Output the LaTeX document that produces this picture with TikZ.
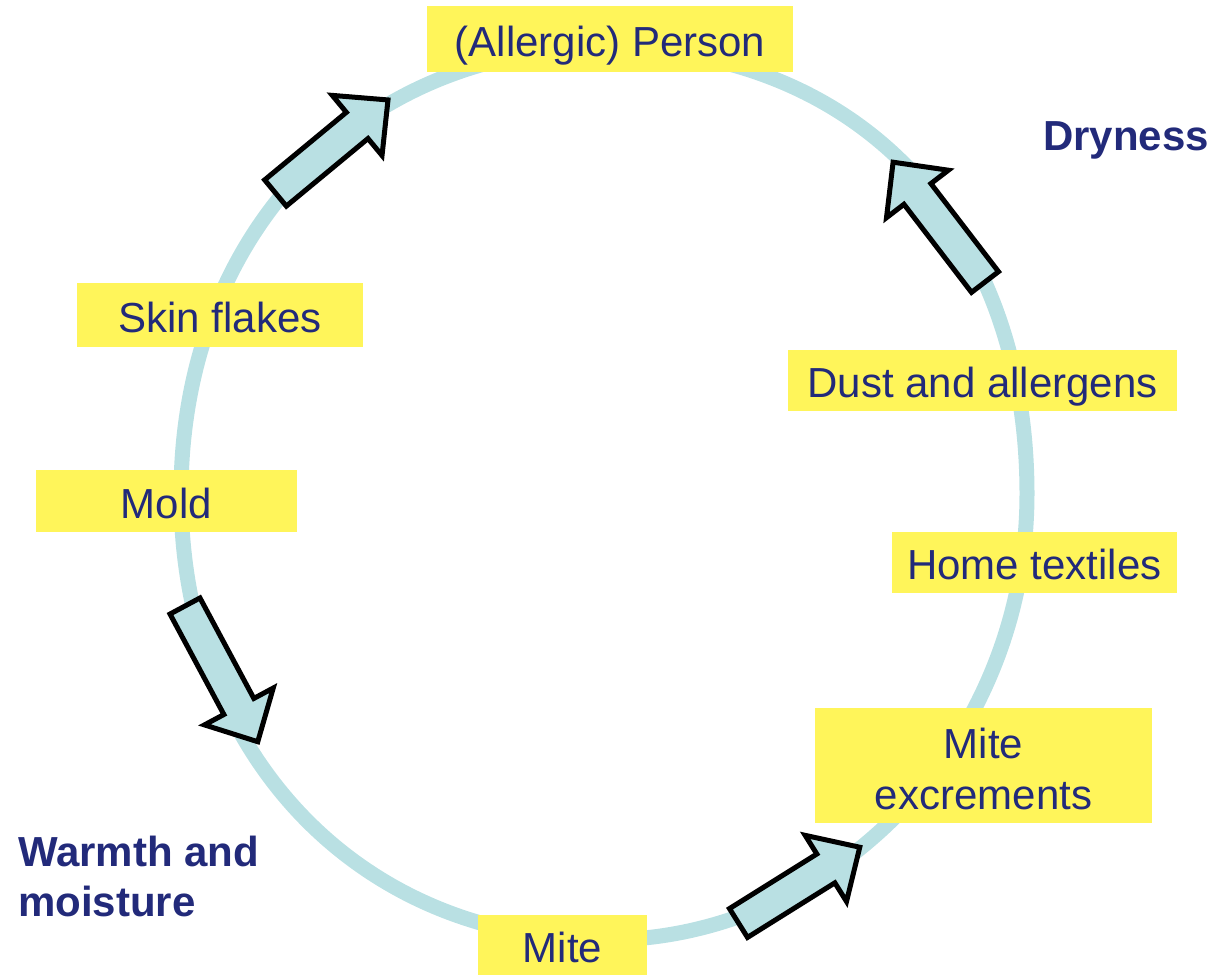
\documentclass[tikz,border=0pt]{standalone}
\usepackage{fontspec}
\setmainfont{Liberation Sans}
\definecolor{navy}{RGB}{34,42,122}
\definecolor{boxyellow}{RGB}{255,245,90}
\definecolor{ringblue}{RGB}{185,224,227}
\newcommand\blkarrow[4]{%
  \begin{scope}[shift={(#1,#2)},rotate=#3]
    \draw[arrowshape] (0,-17) -- ({#4-40},-17) -- ({#4-40},-39) -- (#4,0)
      -- ({#4-40},39) -- ({#4-40},17) -- (0,17) -- cycle;
  \end{scope}}
\begin{document}
\begin{tikzpicture}[x=1pt,y=-1pt,
  ring/.style={draw=ringblue, line width=15pt},
  arrowshape/.style={draw=black, fill=ringblue, line width=5pt, line join=miter},
  lbl/.style={fill=boxyellow, text=navy, inner sep=0pt,
    font=\fontsize{42}{51}\selectfont, text height=37pt, text depth=3pt},
  boldlbl/.style={text=navy, inner sep=0pt, font=\fontsize{42}{50}\bfseries\selectfont}]
\useasboundingbox (0,0) rectangle (1213,977);
% ring
\draw[ring] (1027,494) .. controls (1027,226.4) and (857.8,48) .. (604,48)
  .. controls (358.7,48) and (181,235.3) .. (181,494)
  .. controls (181,752.7) and (358.7,940) .. (604,940)
  .. controls (836.7,940) and (1027,739.3) .. (1027,494) -- cycle;
% block arrows
\blkarrow{275.5}{193}{39.6}{146}
\blkarrow{985}{282}{127.5}{151}
\blkarrow{185}{606}{-61.8}{154}
\blkarrow{738.5}{923}{32}{143}
% label boxes
\node[lbl, minimum width=366pt, minimum height=66pt] (person) at (610,39) {(Allergic) Person};
\node[lbl, minimum width=286pt, minimum height=64pt] (skin) at (220,315) {Skin flakes};
\node[lbl, minimum width=261pt, minimum height=62pt] (mold) at (166.5,501) {Mold};
\node[lbl, minimum width=389pt, minimum height=61pt] (dust) at (982.5,380.5) {Dust and allergens};
\node[lbl, minimum width=285pt, minimum height=61pt] (home) at (1034.5,562.5) {Home textiles};
\node[fill=boxyellow, minimum width=337pt, minimum height=115pt, inner sep=0pt] (excr) at (983.5,765.5) {};
\node[text=navy, inner sep=0pt, align=center, font=\fontsize{42}{51}\selectfont, yshift=-3pt] (excrtext) at (excr.center) {Mite\\excrements};
\node[lbl, minimum width=169pt, minimum height=60pt] (mite) at (562.5,945) {Mite};
% condition labels
\node[boldlbl, anchor=base west] (dry) at (1043,150) {Dryness};
\node[boldlbl, anchor=west, align=left] (warm) at (18,876) {Warmth and\\moisture};
\end{tikzpicture}
\end{document}
